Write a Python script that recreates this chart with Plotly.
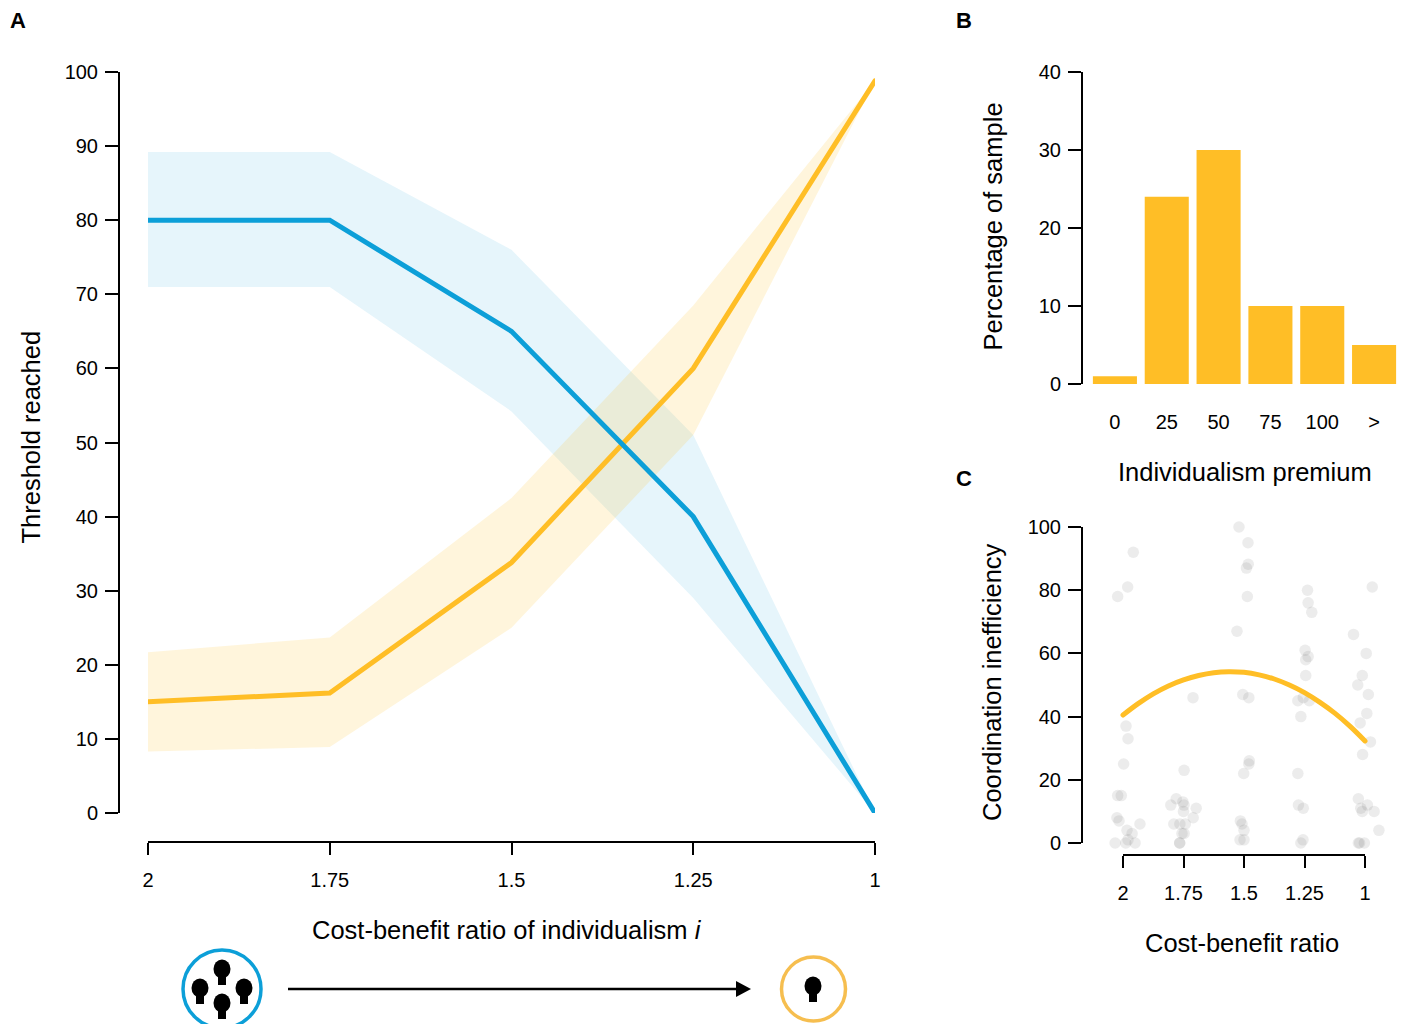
import plotly.graph_objects as go

W, H = 1404, 1024
FONT = "Liberation Sans"
BLUE = "#0C9FD8"
YELLOW = "#FFBE26"
BLACK = "#000000"

# Panel A
ratio_labels = ["2", "1.75", "1.5", "1.25", "1"]
blue_mean = [80, 80, 65, 40, 0]
blue_upper = [89.2, 89.2, 76, 51, 0]
blue_lower = [71, 71, 54.2, 29, 0]
yellow_mean = [15, 16.2, 33.8, 60, 98.8]
yellow_upper = [21.7, 23.7, 42.5, 68.5, 98.8]
yellow_lower = [8.3, 8.9, 25, 51, 98.8]

# Panel B
premium_labels = ["0", "25", "50", "75", "100", ">"]
premium_pct = [1, 24, 30, 10, 10, 5]

# Panel C
jitter_x = [1.917, 2.066, 2.07, 2.04, 2.055, 1.884, .17, .077, -.088, 3.05, 3.06, 3.12, 3.01, 3.06, 3.02, 3.02,
            4.12, 3.81, 4.02, 3.955, 3.88, 4.055, 4.03, 3.92, 4.09, 3.96, 1.157, 1.98, 2.08, 2.89, 2.98, 3.08,
            2.94, .05, .083, .01, 1.01, 2.087, 2.08, 1.995, 2.89, -.088, -.028, .88, .99, 1.008, .79, 1.21, 1.0,
            1.16, .84, .94, 1.03, 1.01, .975, .937, .937, 2.9, 2.98, 3.89, 4.04, 3.93, 3.955, 4.15, 4.23, 3.89,
            3.91, 3.99, 2.94, 2.975, 1.94, 1.967, 2.0, 1.934, 2.0, -.1, -.066, .28, .066, .15, -.13, .045, .083, .2]
jitter_y = [100, 95, 88.2, 87, 78, 67, 92, 81, 78, 80, 76, 73, 61, 59, 58, 53,
            81, 66, 60, 53, 50, 47, 41, 38, 32, 28, 46, 47, 46, 45, 46, 45,
            40, 37, 33, 25, 23, 26, 25, 22, 22, 15, 15, 14, 13, 12, 12, 11, 10,
            8, 6, 6, 6, 3, 3, 0, 0, 12, 11, 14, 12, 11, 10, 10, 4, 0,
            0, 0, 0, 1, 7, 6, 4, 1, 1, 8, 7, 6, 4, 3, 0, 0, 1, 0]
curve_x = [0, .25, .5, .75, 1, 1.25, 1.5, 1.75, 2, 2.25, 2.5, 2.75, 3, 3.25, 3.5, 3.75, 4]
curve_y = [40.5, 44.1, 47.2, 49.7, 51.6, 53, 53.9, 54.2, 54, 53.2, 51.9, 50, 47.6, 44.6, 41.1, 37, 32.3]


def fx(px):
    return px / W


def fy(py):
    return 1 - py / H


fig = go.Figure()

# Panel A traces
idx = list(range(len(ratio_labels)))
for up, lo, col in [(blue_upper, blue_lower, "rgba(12,159,216,0.10)"),
                    (yellow_upper, yellow_lower, "rgba(255,190,38,0.16)")]:
    fig.add_trace(go.Scatter(x=idx + idx[::-1], y=up + lo[::-1], fill="toself", fillcolor=col,
                             mode="none", showlegend=False, xaxis="x", yaxis="y", hoverinfo="skip",
                             cliponaxis=False))
for vals, col in [(yellow_mean, YELLOW), (blue_mean, BLUE)]:
    fig.add_trace(go.Scatter(x=idx, y=vals, mode="lines", line=dict(color=col, width=5),
                             showlegend=False, xaxis="x", yaxis="y", cliponaxis=False))

# Panel B
fig.add_trace(go.Bar(x=list(range(len(premium_labels))), y=premium_pct, marker=dict(color=YELLOW, line_width=0),
                     width=0.85, showlegend=False, xaxis="x2", yaxis="y2"))

# Panel C: x3 carries the visible tick axis, x4 spans the same scale with room for the jitter
fig.add_trace(go.Scatter(x=idx, y=[0] * len(idx), mode="none", showlegend=False, xaxis="x3", yaxis="y3",
                         hoverinfo="skip"))
fig.add_trace(go.Scatter(x=jitter_x, y=jitter_y, mode="markers",
                         marker=dict(color="rgba(90,90,90,0.115)", size=11.5, line_width=0),
                         showlegend=False, xaxis="x4", yaxis="y3", cliponaxis=False))
fig.add_trace(go.Scatter(x=curve_x, y=curve_y, mode="lines",
                         line=dict(color=YELLOW, width=5, shape="spline", smoothing=1),
                         showlegend=False, xaxis="x4", yaxis="y3", cliponaxis=False))

tickfont = dict(family=FONT, size=20, color=BLACK)
titlefont = dict(family=FONT, size=25.5, color=BLACK)


def yax(top, bottom, axis_px, rng, dtick):
    return dict(domain=[fy(bottom), fy(top)], range=rng, dtick=dtick, anchor="free", position=fx(axis_px),
                automargin=False, showgrid=False, zeroline=False, showline=True, linecolor=BLACK, linewidth=2,
                ticks="outside", ticklen=13, tickwidth=2, tickcolor=BLACK, tickfont=tickfont,
                ticklabelstandoff=3)


def xax(left, right, axis_py, rng, vals, labels, line=True):
    return dict(domain=[fx(left), fx(right)], range=rng, tickmode="array", tickvals=vals, ticktext=labels,
                anchor="free", position=fy(axis_py), automargin=False, showgrid=False, zeroline=False,
                showline=line, linecolor=BLACK, linewidth=2, ticks="outside" if line else "", ticklen=12,
                tickwidth=2, tickcolor=BLACK, tickfont=tickfont, ticklabelstandoff=8 if line else 24)


shapes = []


def circle(cx, cy, rx, ry, **kw):
    shapes.append(dict(type="circle", xref="paper", yref="paper", x0=fx(cx - rx), x1=fx(cx + rx),
                       y0=fy(cy + ry), y1=fy(cy - ry), **kw))


def bulb(cx, cy):
    circle(cx, cy - 3, 8.5, 9.5, fillcolor=BLACK, line_width=0)
    shapes.append(dict(type="path", xref="paper", yref="paper", line_width=0, fillcolor=BLACK,
                       path=f"M {fx(cx-4)} {fy(cy+3)} L {fx(cx+4)} {fy(cy+3)} L {fx(cx+4)} {fy(cy+13)} "
                            f"L {fx(cx-4)} {fy(cy+13)} Z"))


circle(222, 989, 39, 39, line=dict(color=BLUE, width=3.5), fillcolor="rgba(0,0,0,0)")
circle(813.5, 989, 32, 32, line=dict(color="#F6BE4F", width=3.5), fillcolor="rgba(0,0,0,0)")
for c in [(222, 972), (200, 991), (244, 991), (222, 1006), (813, 989)]:
    bulb(*c)
shapes.append(dict(type="line", xref="paper", yref="paper", x0=fx(288), x1=fx(738), y0=fy(989), y1=fy(989),
                   line=dict(color=BLACK, width=2.5)))
shapes.append(dict(type="path", xref="paper", yref="paper", fillcolor=BLACK, line_width=0,
                   path=f"M {fx(736)} {fy(981)} L {fx(751)} {fy(989)} L {fx(736)} {fy(997)} Z"))


def note(text, px, py, font, angle=0):
    return dict(text=text, x=fx(px), y=fy(py), xref="paper", yref="paper", showarrow=False, textangle=angle,
                xanchor="center", yanchor="middle", font=font)


letterfont = dict(family=FONT, size=22, color=BLACK)
annotations = [
    note("<b>A</b>", 18, 20, letterfont),
    note("<b>B</b>", 964, 20, letterfont),
    note("<b>C</b>", 964, 478, letterfont),
    note("Cost-benefit ratio of individualism <i>i</i>", 507.5, 930, titlefont),
    note("Threshold reached", 30, 437.5, titlefont, -90),
    note("Individualism premium", 1245, 472, titlefont),
    note("Percentage of sample", 992, 226.5, titlefont, -90),
    note("Cost-benefit ratio", 1241.5, 943, titlefont),
    note("Coordination inefficiency", 992, 682, titlefont, -90),
]

fig.update_layout(
    width=W, height=H, margin=dict(l=0, r=0, t=0, b=0), plot_bgcolor="white", paper_bgcolor="white",
    autosize=False, showlegend=False, shapes=shapes, annotations=annotations,
    xaxis=xax(148, 875, 842, [0, 4], idx, ratio_labels),
    yaxis=yax(72, 813, 119, [0, 100], 10),
    xaxis2=xax(1089, 1400, 384, [-0.5, 5.5], list(range(6)), premium_labels, line=False),
    yaxis2=yax(72, 384, 1082, [0, 40], 10),
    xaxis3=xax(1123, 1365, 855, [0, 4], idx, ratio_labels),
    yaxis3=yax(527, 843, 1082, [0, 100], 20),
    xaxis4=dict(domain=[fx(1098.8), fx(1389.2)], range=[-0.4, 4.4], visible=False, anchor="free", position=fy(855),
                automargin=False),
)
fig.write_html("out.html", config=dict(displayModeBar=False),
               post_script="document.body.style.margin='0';document.documentElement.style.overflow='hidden';"
                           "var s=document.createElement('style');s.textContent='.js-line{stroke-linecap:round}';"
                           "document.head.appendChild(s);")
